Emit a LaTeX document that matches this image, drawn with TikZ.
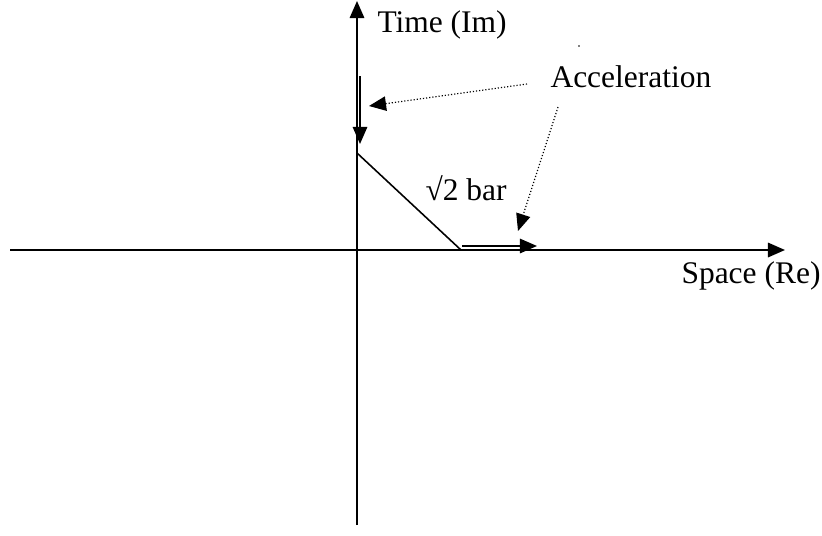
\documentclass[tikz,border=0pt]{standalone}
\usepackage{fontspec}
\setmainfont{Liberation Serif}
\usetikzlibrary{positioning, arrows.meta}

\begin{document}
\begin{tikzpicture}[
    x=0.01339cm, y=-0.01339cm,
    axis/.style={-{Triangle[length=6.5pt, width=5.5pt]}, line width=0.75pt},
    arrow/.style={-{Triangle[length=6.5pt, width=5.5pt]}, line width=0.6pt},
    pointer/.style={-{Triangle[length=6.5pt, width=5.5pt]}, dash pattern=on 0.45pt off 0.75pt, line width=0.45pt},
    label/.style={font=\fontsize{12}{14}\selectfont, inner sep=0pt}
]
\useasboundingbox (0,0) rectangle (822,535);

% Axes
\coordinate (ybot) at (357,525);
\coordinate (ytop) at (357,1);
\coordinate (xleft) at (10,250);
\coordinate (xright) at (785,250);
\draw[axis] (ybot) -- (ytop);
\draw[axis] (xleft) -- (xright);

% Axis labels
\node[label, anchor=west] (timelbl) at (377,25) {Time (Im)};
\node[label, anchor=east] (spacelbl) at (821,276) {Space (Re)};

% The bar
\coordinate (bartop) at (357,153);
\coordinate (barfoot) at (461,250);
\draw[line width=0.6pt] (bartop) -- (barfoot);
\node[label, anchor=west] (barlbl) at (425,188) {√2 bar};

% Acceleration arrows
\coordinate (vstart) at (360,76);
\coordinate (vend) at (360,144);
\draw[arrow] (vstart) -- (vend);
\coordinate (hstart) at (462,246);
\coordinate (hend) at (537,246);
\draw[arrow] (hstart) -- (hend);

% Acceleration label and pointers
\node[label, anchor=west] (accel) at (550,77) {Acceleration};
\coordinate (pa) at (527,84);
\coordinate (pb) at (558,107);
\draw[pointer] (pa) -- (369,106);
\draw[pointer] (pb) -- (518,231);
\fill (579,46) circle (0.3pt);

\end{tikzpicture}
\end{document}
